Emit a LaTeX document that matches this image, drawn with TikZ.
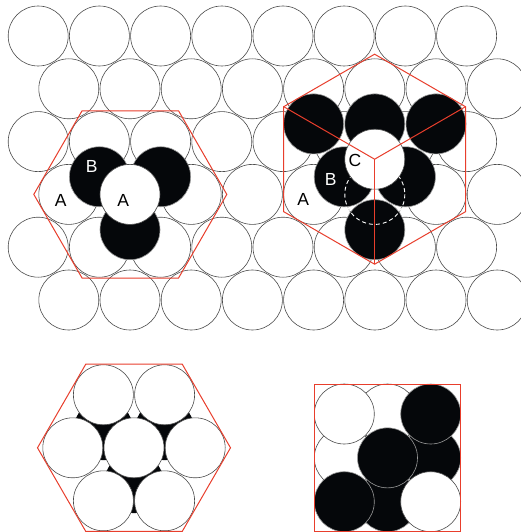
\documentclass[tikz,border=0pt]{standalone}
\usepackage{fontspec}
\setmainfont{Liberation Sans}
\definecolor{hexred}{RGB}{232,62,44}
\definecolor{ink}{RGB}{5,7,10}
\begin{document}
\begin{tikzpicture}[x=1pt,y=-1pt,
  ball/.style={draw=black!70,line width=0.6pt,fill=white},
  blackball/.style={draw=black!40,line width=0.6pt,fill=ink},
  dashball/.style={draw=white,line width=0.9pt,dash pattern=on 4pt off 3pt},
  redline/.style={draw=hexred,line width=1pt,line join=miter},
  lbl/.style={font=\fontsize{17.5}{20}\selectfont,inner sep=0pt,anchor=center},
]
\useasboundingbox (0,0) rectangle (521,532);
\begin{scope}
\clip (0,0) rectangle (521,532);
% ---------- layer A grid ----------
\foreach \j in {0,...,5}{
  \pgfmathsetmacro\yy{36+52.8*\j}
  \pgfmathsetmacro\xo{38.2+30.6*mod(\j,2)}
  \foreach \k in {0,...,7}{
    \draw[ball] ({\xo+61.2*\k},\yy) circle[radius=30];
  }
}
% ---------- left cluster (A B A) ----------
\draw[blackball] (99.4,176.75) circle[radius=30];
\draw[blackball] (160.6,176.75) circle[radius=30];
\draw[blackball] (130,229.7) circle[radius=30];
\draw[ball] (130,194.4) circle[radius=30];
\draw[redline] (226.8,194.4) -- (178.55,110.8) -- (82.05,110.8) -- (33.8,194.4)
  -- (82.05,278) -- (178.55,278) -- cycle;
% ---------- right cluster (A B C) ----------
\foreach \p in {(313.6,123.9),(374.8,123.9),(436,123.9),(344.2,176.8),(405.4,176.8),(374.8,229.7)}{
  \draw[blackball] \p circle[radius=30];
}
\draw[dashball] (374.8,194.4) circle[radius=30];
\draw[ball] (374.8,159.2) circle[radius=30];
\coordinate (hc) at (374.6,159.2);
\coordinate (ht) at (374.6,54.2);
\coordinate (hur) at (465.5,106.7);
\coordinate (hlr) at (465.5,211.7);
\coordinate (hb) at (374.6,264.2);
\coordinate (hll) at (283.7,211.7);
\coordinate (hul) at (283.7,106.7);
\draw[redline] (ht) -- (hur) -- (hlr) -- (hb) -- (hll) -- (hul) -- cycle;
\draw[redline] (hul) -- (hc) -- (hur);
\draw[redline] (hc) -- (hb);
% ---------- labels ----------
\node[lbl] (la1) at (60.7,200) {A};
\node[lbl,text=white] (lb1) at (91.7,166.7) {B};
\node[lbl] (la2) at (123.3,200) {A};
\node[lbl] (ra1) at (303.3,199.3) {A};
\node[lbl,text=white] (rb1) at (330.7,179.3) {B};
\node[lbl] (rc1) at (355,160) {C};
% ---------- bottom left: hexagonal view ----------
\draw[blackball,draw=none] (103.4,430.1) circle[radius=30];
\draw[blackball,draw=none] (164.6,430.1) circle[radius=30];
\draw[blackball,draw=none] (134,483.1) circle[radius=30];
\foreach \p in {(134,447.8),(72.8,447.8),(195.2,447.8),(103.4,394.8),(164.6,394.8),(103.4,500.8),(164.6,500.8)}{
  \draw[ball] \p circle[radius=30];
}
\draw[redline] (230.5,447.8) -- (182.25,364.2) -- (85.75,364.2) -- (37.5,447.8)
  -- (85.75,531.4) -- (182.25,531.4) -- cycle;
% ---------- bottom right: cubic face view ----------
\draw[ball] (387.5,414) circle[radius=30];
\draw[ball] (344.3,457.85) circle[radius=30];
\draw[blackball] (430.7,457.85) circle[radius=30];
\draw[blackball] (387.5,501.7) circle[radius=30];
\draw[ball] (344.3,414) circle[radius=30];
\draw[blackball] (430.7,414) circle[radius=30];
\draw[blackball] (344.3,501.7) circle[radius=30];
\draw[ball] (430.7,501.7) circle[radius=30];
\draw[blackball] (387.5,457.85) circle[radius=30];
\draw[redline] (314.3,384) rectangle (460.7,531.4);
\end{scope}
\end{tikzpicture}
\end{document}
